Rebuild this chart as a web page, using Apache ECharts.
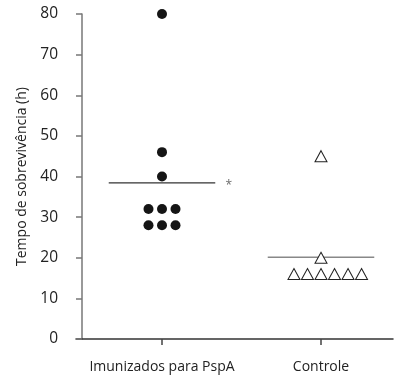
<!DOCTYPE html>
<html>
<head>
<meta charset="utf-8">
<script src="https://cdn.jsdelivr.net/npm/echarts@6/dist/echarts.min.js"></script>
<style>
  html, body { margin: 0; padding: 0; background: #fff; }
  #chart { width: 394px; height: 377px; }
</style>
</head>
<body>
<div id="chart"></div>
<script>
// Groups and survival times (hours)
const groups = ['Imunizados para PspA', 'Controle'];
const immunizedHours = [80, 46, 40, 32, 32, 32, 28, 28, 28];
const immunizedSlot  = [0, 0, 0, -1, 0, 1, -1, 0, 1];
const controlHours   = [45, 20, 16, 16, 16, 16, 16, 16];
const controlSlot    = [0, 0, -2, -1, 0, 1, 2, 3];
const yTicks = [0, 10, 20, 30, 40, 50, 60, 70, 80];

// Horizontal spread between side-by-side points and half-length of mean bars
const SLOT = 0.085;
const HALF = 0.335;

const mean = a => a.reduce((s, v) => s + v, 0) / a.length;
const pts = (vals, slots, center) => vals.map((v, i) => [center + slots[i] * SLOT, v]);
const meanBar = (vals, center) => [[center - HALF, mean(vals)], [center + HALF, mean(vals)]];

const FONT = 'Open Sans';
const chart = echarts.init(document.getElementById('chart'), null, { renderer: 'canvas' });

chart.setOption({
  animation: false,
  backgroundColor: '#fff',
  grid: { left: 76, right: 1, top: 14, bottom: 38, containLabel: false },
  xAxis: {
    type: 'value',
    min: 1 - 86 / 159,
    max: 2 + 72 / 159,
    splitLine: { show: false },
    axisLine: { show: true, onZero: false, lineStyle: { color: '#333', width: 1.5 } },
    axisTick: { show: true, customValues: [1, 2], length: 6, lineStyle: { color: '#444', width: 1.5 } },
    axisLabel: {
      show: true,
      customValues: [1, 2],
      formatter: v => groups[Math.round(v) - 1] || '',
      margin: 21,
      color: '#222',
      fontFamily: FONT,
      fontSize: 14
    }
  },
  yAxis: {
    type: 'value',
    min: 0,
    max: 80,
    interval: 10,
    offset: -6,
    name: 'Tempo de sobrevivência (h)',
    nameLocation: 'middle',
    nameGap: 51,
    nameTextStyle: { color: '#222', fontFamily: FONT, fontSize: 14 },
    splitLine: { show: false },
    axisLine: { show: true, onZero: false, lineStyle: { color: '#777', width: 1.5 } },
    axisTick: { show: true, length: 6, lineStyle: { color: '#777', width: 1.5 } },
    axisLabel: {
      margin: 24,
      color: '#222',
      fontFamily: FONT,
      fontSize: 15.5,
      customValues: yTicks
    }
  },
  series: [
    {
      type: 'line',
      data: meanBar(immunizedHours, 1),
      symbol: 'none',
      lineStyle: { color: '#333', width: 1.3 },
      z: 1
    },
    {
      type: 'line',
      data: meanBar(controlHours, 2),
      symbol: 'none',
      lineStyle: { color: '#888', width: 1.6 },
      z: 1
    },
    {
      type: 'scatter',
      data: pts(immunizedHours, immunizedSlot, 1),
      symbol: 'circle',
      symbolSize: 10,
      itemStyle: { color: '#151515', opacity: 1 },
      z: 3
    },
    {
      type: 'scatter',
      data: pts(controlHours, controlSlot, 2),
      symbol: 'triangle',
      symbolSize: [12, 11],
      itemStyle: { color: '#fff', borderColor: '#222', borderWidth: 1, opacity: 1 },
      z: 3
    },
    {
      // significance marker beside the immunized mean
      type: 'scatter',
      data: [[1 + 0.42, mean(immunizedHours)]],
      symbol: 'circle',
      symbolSize: 2,
      itemStyle: { color: 'rgba(0,0,0,0)' },
      label: {
        show: true,
        position: 'inside',
        formatter: '*',
        color: '#444',
        fontFamily: FONT,
        fontSize: 12,
        offset: [0, 3]
      },
      z: 3
    }
  ]
});
</script>
</body>
</html>
